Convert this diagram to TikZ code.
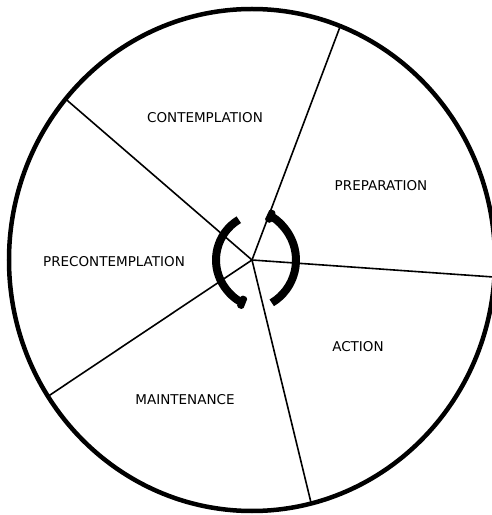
\documentclass[tikz,border=0pt]{standalone}
\usepackage{fontspec}
\setmainfont{DejaVu Sans}
\usetikzlibrary{arrows.meta}
\begin{document}
\begin{tikzpicture}[x=1pt,y=1pt,
  rim/.style={line width=4.5pt},
  spoke/.style={line width=1.6pt},
  stage/.style={font=\fontsize{13.5}{16}\selectfont, inner sep=0pt},
  cyc/.style={line width=8pt, -{Square[length=7pt,width=13pt,round]}}]
\useasboundingbox (0,0) rectangle (492,515);
\coordinate (c) at (252,255);
\draw[rim] (c) ellipse [x radius=243, y radius=251];
\path (c) ++(68.7:243 and 251) coordinate (e1);
\path (c) ++(-3.9:243 and 251) coordinate (e2);
\path (c) ++(-75.9:243 and 251) coordinate (e3);
\path (c) ++(212.9:243 and 251) coordinate (e4);
\path (c) ++(140.1:243 and 251) coordinate (e5);
\foreach \e in {e1,e2,e3,e4,e5} \draw[spoke] (c) -- (\e);
\node[stage] (contemplation) at (205,397) {CONTEMPLATION};
\node[stage] (preparation) at (381,329) {PREPARATION};
\node[stage] (precontemplation) at (114,253) {PRECONTEMPLATION};
\node[stage] (action) at (358,168) {ACTION};
\node[stage] (maintenance) at (185,115) {MAINTENANCE};
\coordinate (lc) at (263,255);
\coordinate (rc) at (246,255);
\draw[cyc] ([shift={(121:47)}]lc) arc[start angle=121, end angle=248, radius=47];
\draw[cyc] ([shift={(-59:50)}]rc) arc[start angle=-59, end angle=65, radius=50];
\end{tikzpicture}
\end{document}
